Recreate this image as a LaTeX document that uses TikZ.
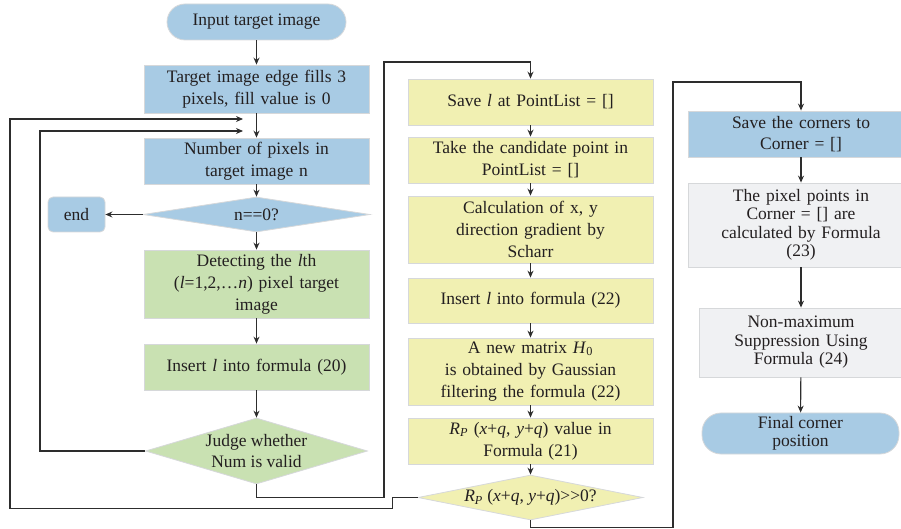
\documentclass[tikz,border=0pt]{standalone}
\usepackage{fontspec}
\setmainfont{Liberation Serif}
\usetikzlibrary{arrows.meta,shapes.geometric}
\definecolor{cblue}{RGB}{168,203,228}
\definecolor{cgreen}{RGB}{201,225,178}
\definecolor{cyellow}{RGB}{241,240,178}
\definecolor{cgrey}{RGB}{240,241,243}
\definecolor{cedge}{RGB}{214,216,218}
\definecolor{cline}{RGB}{45,45,45}
\definecolor{ctext}{RGB}{35,31,32}
\begin{document}
\begin{tikzpicture}[x=1pt, y=-1pt, font=\fontsize{17.5}{22}\selectfont, text=ctext,
  box/.style = {draw=cedge, line width=0.8pt, align=center, inner sep=0pt, text width=#1, minimum width=#1},
  bluebox/.style = {box=225pt, fill=cblue}, greenbox/.style = {box=225pt, fill=cgreen},
  yellowbox/.style = {box=245pt, fill=cyellow}, greybox/.style = {box=226pt, fill=cgrey},
  pill/.style = {draw=cedge, line width=0.8pt, fill=cblue, align=center, rounded corners=18pt},
  decision/.style = {diamond, draw=cedge, line width=0.8pt, inner sep=0pt},
  tight/.style = {font=\fontsize{17.5}{18.5}\selectfont},
  arr/.style = {draw=cline, line width=1.1pt, -{Stealth[length=7pt,width=6pt]}}]
\useasboundingbox (0,0) rectangle (901,529);
% first column
\node[pill, minimum width=179pt, minimum height=36pt] (input) at (256.5,22) {Input target image};
\node[bluebox, minimum height=48pt] (fill) at (256.5,89) {Target image edge fills 3\\pixels, fill value is 0};
\node[bluebox, minimum height=46pt] (npix) at (256.5,161) {Number of pixels in\\target image n};
\node[decision, fill=cblue, minimum width=227pt, minimum height=35pt,
      label={[align=center]center:n==0?}] (nzero) at (256.5,214.5) {};
\node[pill, rounded corners=5pt, minimum width=57pt, minimum height=35pt] (end) at (76.5,214.5) {end};
\node[greenbox, minimum height=68pt] (detect) at (256.5,284) {Detecting the \textit{l}th\\(\textit{l}=1,2,…\textit{n}) pixel target\\image};
\node[greenbox, minimum height=46pt] (ins20) at (256.5,367) {Insert \textit{l} into formula (20)};
\node[decision, fill=cgreen, minimum width=222pt, minimum height=66pt,
      label={[align=center, font=\fontsize{17.5}{21}\selectfont]center:Judge whether\\Num is valid}] (judge) at (256.5,451) {};
\coordinate (in1) at (243,119);
\coordinate (in2) at (243,131);
% second column
\node[yellowbox, minimum height=46pt] (save) at (530.5,102) {Save \textit{l} at PointList = []};
\node[yellowbox, minimum height=46pt] (take) at (530.5,160) {Take the candidate point in\\PointList = []};
\node[yellowbox, minimum height=67pt] (calc) at (530.5,229.5) {Calculation of x, y\\direction gradient by\\Scharr};
\node[yellowbox, minimum height=45pt] (ins22) at (530.5,300.5) {Insert \textit{l} into formula (22)};
\node[yellowbox, minimum height=67pt] (matrix) at (530.5,371.5) {A new matrix \textit{H}\textsubscript{0}\\is obtained by Gaussian\\filtering the formula (22)};
\node[yellowbox, minimum height=46pt] (rvalue) at (530.5,441) {\textit{R}\textsubscript{\textit{P}} (\textit{x}+\textit{q}, \textit{y}+\textit{q}) value in\\Formula (21)};
\node[decision, fill=cyellow, minimum width=225pt, minimum height=45pt,
      label={[align=center]center:\textit{R}\textsubscript{\textit{P}} (\textit{x}+\textit{q}, \textit{y}+\textit{q})>{}>0?}] (rpq) at (530.5,497.5) {};
% third column
\node[bluebox, box=226pt, minimum height=46pt, font=\fontsize{17.5}{21}\selectfont] (corners) at (801,134) {Save the corners to\\Corner = []};
\node[greybox, tight, minimum height=84pt] (pixcalc) at (801,225) {The pixel points in\\Corner = [] are\\calculated by Formula\\(23)};
\node[greybox, box=203pt, tight, minimum height=69pt] (nonmax) at (801,342.5) {Non-maximum\\Suppression Using\\Formula (24)};
\node[pill, tight, rounded corners=19pt, minimum width=197pt, minimum height=39pt] (final) at (800.5,433.5) {Final corner\\position};
% connectors
\draw[arr] (input) -- (fill);
\draw[arr] (fill) -- (npix);
\draw[arr] (npix) -- (nzero);
\draw[arr] (nzero.west) -- (end);
\draw[arr] (nzero.south) -- (detect);
\draw[arr] (detect) -- (ins20);
\draw[arr] (ins20) -- (judge.north);
\draw[arr] (judge.west) -| (40,131) -- (in2);
\draw[arr] (judge.south) -- ++(0,13) -| (384,62) -| (save.north);
\draw[arr] (save) -- (take);
\draw[arr] (take) -- (calc);
\draw[arr] (calc) -- (ins22);
\draw[arr] (ins22) -- (matrix);
\draw[arr] (matrix) -- (rvalue);
\draw[arr] (rvalue) -- (rpq.north);
\draw[arr] (rpq.west) -- ++(-25,0) -- ++(0,11) -| (10,119) -- (in1);
\draw[arr] (rpq.south) -- ++(0,7) -| (673,82) -| (corners.north);
\draw[arr] (corners) -- (pixcalc);
\draw[arr] (pixcalc) -- (nonmax);
\draw[arr] (nonmax) -- (final);
\end{tikzpicture}
\end{document}
